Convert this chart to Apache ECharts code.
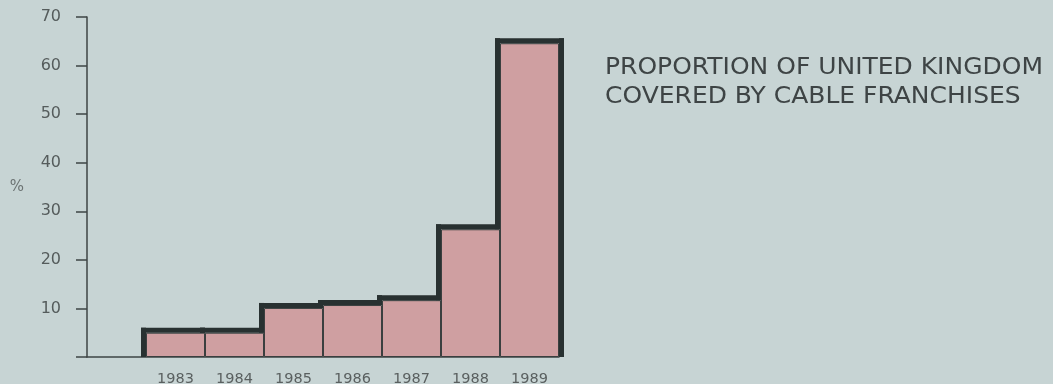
<!DOCTYPE html>
<html>
<head>
<meta charset="utf-8">
<script src="https://cdn.jsdelivr.net/npm/echarts@6/dist/echarts.min.js"></script>
<style>
  html, body { margin: 0; padding: 0; background: #c7d4d4; }
  #chart { width: 1053px; height: 384px; }
</style>
</head>
<body>
<div id="chart"></div>
<script>
// Share of the UK covered by cable franchises, by year (%)
const years = ['1983', '1984', '1985', '1986', '1987', '1988', '1989'];
const shares = [5, 5, 10.1, 10.7, 11.7, 26.3, 64.6];
const titleLines = ['PROPORTION OF UNITED KINGDOM', 'COVERED BY CABLE FRANCHISES'];

// an empty leading slot keeps the first bar clear of the value axis
const categories = [''].concat(years);
const barData = ['-'].concat(shares);

const OUTLINE = 5;
const outlineColor = '#283131';

function renderOutline(params, api) {
  const i = params.dataIndex;
  const v = api.value(1);
  if (v === '-' || v == null || isNaN(v)) return null;
  const prev = i > 1 ? shares[i - 2] : 0;
  const w = api.size([1, 0])[0];
  const c = api.coord([i, v]);
  const x0 = c[0] - w / 2, x1 = c[0] + w / 2;
  const y = c[1];
  const yPrev = api.coord([i, prev])[1];
  const yBase = api.coord([i, 0])[1];
  const isLast = i === barData.length - 1;
  const kids = [];
  const style = { fill: outlineColor };
  // top edge
  kids.push({ type: 'rect', shape: { x: x0 - OUTLINE, y: y - OUTLINE, width: w + OUTLINE * (isLast ? 2 : 1), height: OUTLINE }, style });
  // step up from the previous bar
  if (v >= prev) {
    kids.push({ type: 'rect', shape: { x: x0 - OUTLINE, y: y - OUTLINE, width: OUTLINE, height: yPrev - y + OUTLINE }, style });
  } else {
    kids.push({ type: 'rect', shape: { x: x0, y: yPrev - OUTLINE, width: OUTLINE, height: y - yPrev + OUTLINE }, style });
  }
  // closing edge on the right of the last bar
  if (isLast) {
    kids.push({ type: 'rect', shape: { x: x1, y: y - OUTLINE, width: OUTLINE, height: yBase - y + OUTLINE }, style });
  }
  return { type: 'group', children: kids };
}

const chart = echarts.init(document.getElementById('chart'), null, { renderer: 'canvas' });
chart.setOption({
  backgroundColor: '#c7d4d4',
  animation: false,
  // heading set in a slightly extended face
  graphic: [
    {
      type: 'text',
      left: 605,
      top: 54,
      scaleX: 1.11,
      style: {
        text: titleLines.join('\n'),
        fontFamily: 'DejaVu Sans',
        fontSize: 22.5,
        lineHeight: 29,
        fill: '#3e4445'
      }
    }
  ],
  grid: { left: 87, right: 1053 - 559, top: 17, bottom: 27, containLabel: false, outerBoundsMode: 'none' },
  xAxis: {
    type: 'category',
    data: categories,
    boundaryGap: true,
    axisLine: { lineStyle: { color: '#3e4444', width: 1.5 } },
    axisTick: { show: false },
    axisLabel: {
      margin: 15,
      fontFamily: 'DejaVu Sans',
      fontSize: 14.5,
      color: '#5a6060'
    }
  },
  yAxis: {
    type: 'value',
    min: 0,
    max: 70,
    interval: 10,
    name: '%',
    nameLocation: 'middle',
    nameRotate: 0,
    nameGap: 63,
    nameTextStyle: { fontFamily: 'DejaVu Sans', fontSize: 15, color: '#6c7373' },
    splitLine: { show: false },
    axisLine: { show: true, lineStyle: { color: '#3e4444', width: 1.5 } },
    axisTick: { show: true, length: 11, lineStyle: { color: '#3e4444', width: 1.5 } },
    axisLabel: {
      margin: 26,
      fontFamily: 'DejaVu Sans',
      fontSize: 16,
      color: '#555c5c',
      formatter: v => (v === 0 ? '' : String(v))
    }
  },
  series: [
    {
      type: 'bar',
      data: barData,
      barWidth: '100%',
      barGap: '-100%',
      itemStyle: { color: '#cf9fa1', borderColor: '#3a3f3f', borderWidth: 1 }
    },
    {
      type: 'custom',
      data: barData.map((v, i) => [i, v]),
      renderItem: renderOutline,
      clip: false,
      z: 5
    }
  ]
});
</script>
</body>
</html>
